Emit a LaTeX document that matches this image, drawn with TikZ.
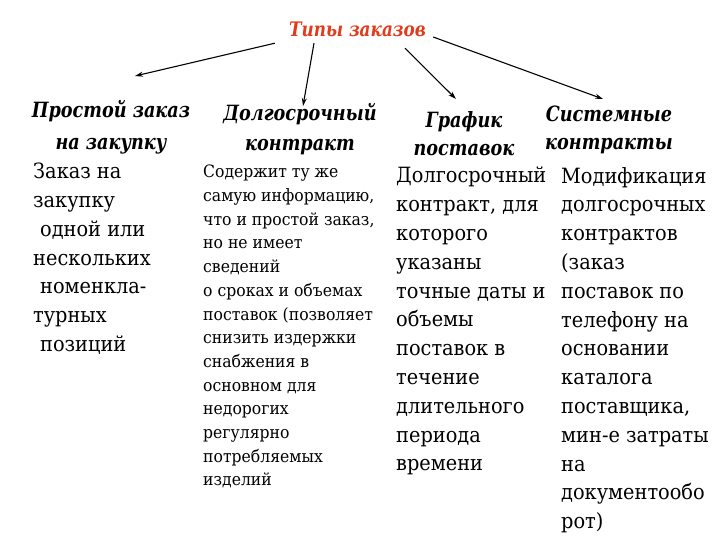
\documentclass[tikz,border=0pt]{standalone}
\usepackage{fontspec}
\setmainfont{DejaVu Serif}[FakeStretch=0.92]
\newfontfamily\headfont{DejaVu Serif}[FakeStretch=0.84]
\usetikzlibrary{arrows.meta,positioning}
\definecolor{titlered}{RGB}{224,60,28}

\begin{document}
\begin{tikzpicture}[x=1pt,y=-1pt,
  every node/.style={inner sep=0pt, align=left},
  head/.style={font=\headfont\fontsize{21}{32}\selectfont\bfseries\itshape,
    align=center, anchor=north},
  bigtext/.style={font=\fontsize{21}{28.8}\selectfont, anchor=north west},
  smalltext/.style={font=\fontsize{17}{23.7}\selectfont, anchor=north west},
  arr/.style={-{Stealth[length=8pt,width=5pt]}, line width=1.1pt}]
  \useasboundingbox (0,0) rectangle (720,540);

  % title
  \node[minimum width=158pt, minimum height=28pt, align=center,
    font=\headfont\fontsize{20}{24}\selectfont\bfseries\itshape, text=titlered]
    (title) at (354,29) {\hspace{7pt}Типы заказов};

  % headings
  \node[head] (simple) at (111,100) {Простой заказ\\на закупку};
  \node[head, font=\headfont\fontsize{21}{30}\selectfont\bfseries\itshape]
    (longterm) at (300,103) {Долгосрочный\\контракт};
  \node[head, font=\headfont\fontsize{21}{28}\selectfont\bfseries\itshape]
    (schedule) at (464,111) {График\\поставок};
  \node[head, font=\headfont\fontsize{21}{28}\selectfont\bfseries\itshape]
    (system) at (609,106) {Системные\\контракты};

  % texts
  \node[bigtext] (simpletext) at (33,163)
    {Заказ на\\закупку\\\hspace{7pt}одной или\\нескольких\\
     \hspace{7pt}номенкла-\\турных\\\hspace{7pt}позиций};
  \node[smalltext] (longtermtext) at (203,165)
    {Содержит ту же\\самую информацию,\\что и простой заказ,\\но не имеет\\
     сведений\\о сроках и объемах\\поставок (позволяет\\снизить издержки\\
     снабжения в\\основном для\\недорогих\\регулярно\\потребляемых\\изделий};
  \node[bigtext] (scheduletext) at (396,167)
    {Долгосрочный\\контракт, для\\которого\\указаны\\точные даты и\\
     объемы\\поставок в\\течение\\длительного\\периода\\времени};
  \node[bigtext] (systemtext) at (561,167)
    {Модификация\\долгосрочных\\контрактов\\(заказ\\поставок по\\
     телефону на\\основании\\каталога\\поставщика,\\мин-е затраты\\на\\
     документообо\\рот)};

  % arrows
  \coordinate (e1) at (135,76);
  \coordinate (e2) at (303,106);
  \coordinate (e3) at (456,99);
  \coordinate (e4) at (603,99);
  \draw[arr] (title.south west) -- (e1);
  \draw[arr] ([xshift=-40pt]title.south) -- (e2);
  \draw[arr] ([xshift=51pt,yshift=-5pt]title.south) -- (e3);
  \draw[arr] ([yshift=-8pt]title.east) -- (e4);
\end{tikzpicture}
\end{document}
